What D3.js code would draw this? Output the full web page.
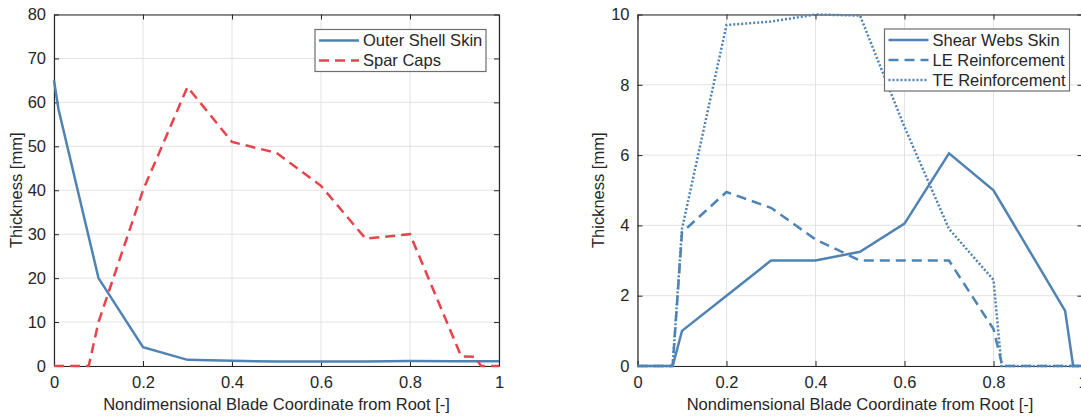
<!DOCTYPE html>
<html lang="en">
<head>
<meta charset="utf-8">
<title>Blade layer thickness</title>
<script src="https://cdn.jsdelivr.net/npm/d3@7"></script>
<style>
  body { margin: 0; background: #fff; }
  svg { display: block; font-family: "Liberation Sans", Arial, Helvetica, sans-serif; }
</style>
</head>
<body>
<script>
// data
var xTicks = [0, 0.2, 0.4, 0.6, 0.8, 1];
var leftYTicks = [0, 10, 20, 30, 40, 50, 60, 70, 80];
var rightYTicks = [0, 2, 4, 6, 8, 10];

var outerShellX = [0, 0.01, 0.1, 0.2, 0.3, 0.4, 0.5, 0.6, 0.7, 0.8, 0.9, 1];
var outerShellY = [65, 58.5, 20, 4.3, 1.4, 1.2, 1.0, 1.0, 1.0, 1.15, 1.1, 1.1];

var sparCapsX = [0, 0.078, 0.1, 0.2, 0.3, 0.4, 0.5, 0.6, 0.7, 0.8, 0.915, 0.945, 0.96, 1];
var sparCapsY = [0, 0, 10, 40, 63.5, 51, 48.5, 41, 29, 30, 2.2, 2.1, 0, 0];

var shearWebX = [0, 0.079, 0.1, 0.2, 0.3, 0.4, 0.5, 0.6, 0.7, 0.8, 0.961, 0.979, 1];
var shearWebY = [0, 0, 1.0, 2.0, 3.0, 3.0, 3.25, 4.05, 6.05, 5.0, 1.57, 0, 0];

var leReinfX = [0, 0.079, 0.1, 0.2, 0.3, 0.4, 0.5, 0.6, 0.7, 0.8, 0.82, 1];
var leReinfY = [0, 0, 3.8, 4.95, 4.5, 3.6, 3.0, 3.0, 3.0, 1.05, 0, 0];

var teReinfX = [0, 0.079, 0.1, 0.2, 0.3, 0.4, 0.5, 0.6, 0.7, 0.8, 0.818, 1];
var teReinfY = [0, 0, 3.9, 9.7, 9.8, 10.0, 9.97, 6.8, 3.9, 2.45, 0, 0];

var blue = "#4f83b3";
var red = "#e8434b";
var ink = "#262626";
var fs = "16.5px";

var w = 1081, h = 419;

var svg = d3.select("body").append("svg")
  .attr("width", w)
  .attr("height", h);

function zip(xs, ys) {
  return xs.map(function(x, i) { return [x, ys[i]]; });
}

var panels = [
  {
    left: 54, right: 499, top: 14.5, bottom: 366,
    yMax: 80, yTicks: leftYTicks,
    series: [
      { name: "Outer Shell Skin", pts: zip(outerShellX, outerShellY), color: blue, dash: null },
      { name: "Spar Caps", pts: zip(sparCapsX, sparCapsY), color: red, dash: "10,6" }
    ],
    legend: { x: 315, y: 29.5, w: 171, h: 42 },
    ylabelX: 16
  },
  {
    left: 637.5, right: 1082.5, top: 14.5, bottom: 366,
    yMax: 10, yTicks: rightYTicks,
    series: [
      { name: "Shear Webs Skin", pts: zip(shearWebX, shearWebY), color: blue, dash: null },
      { name: "LE Reinforcement", pts: zip(leReinfX, leReinfY), color: blue, dash: "10,6" },
      { name: "TE Reinforcement", pts: zip(teReinfX, teReinfY), color: blue, dash: "2,2" }
    ],
    legend: { x: 884.5, y: 29, w: 185, h: 62 },
    ylabelX: 598
  }
];

panels.forEach(function(p) {
  var x = d3.scaleLinear().domain([0, 1]).range([p.left, p.right]);
  var y = d3.scaleLinear().domain([0, p.yMax]).range([p.bottom, p.top]);
  var g = svg.append("g");

  // grid
  g.selectAll(".vgrid").data(xTicks).enter().append("line")
    .attr("x1", function(d) { return x(d); })
    .attr("x2", function(d) { return x(d); })
    .attr("y1", p.top).attr("y2", p.bottom)
    .attr("stroke", "#e3e3e3").attr("stroke-width", 1);
  g.selectAll(".hgrid").data(p.yTicks).enter().append("line")
    .attr("y1", function(d) { return y(d); })
    .attr("y2", function(d) { return y(d); })
    .attr("x1", p.left).attr("x2", p.right)
    .attr("stroke", "#e3e3e3").attr("stroke-width", 1);

  // axes (ticks point inwards, box on all sides)
  var tl = 5;
  g.append("g").attr("transform", "translate(0," + p.bottom + ")")
    .call(d3.axisBottom(x).tickValues(xTicks).tickSizeInner(-tl).tickSizeOuter(0).tickPadding(10)
      .tickFormat(function(d) { return d === 0 || d === 1 ? d3.format("d")(d) : d3.format(".1f")(d); }));
  g.append("g").attr("transform", "translate(" + p.left + ",0)")
    .call(d3.axisLeft(y).tickValues(p.yTicks).tickSizeInner(-tl).tickSizeOuter(0).tickPadding(8));
  g.append("g").attr("transform", "translate(0," + p.top + ")")
    .call(d3.axisTop(x).tickValues(xTicks).tickSizeInner(-tl).tickSizeOuter(0).tickFormat(""));
  g.append("g").attr("transform", "translate(" + p.right + ",0)")
    .call(d3.axisRight(y).tickValues(p.yTicks).tickSizeInner(-tl).tickSizeOuter(0).tickFormat(""));

  g.selectAll(".domain").attr("stroke", ink).attr("stroke-width", 1.2);
  g.selectAll(".tick line").attr("stroke", ink).attr("stroke-width", 1);
  g.selectAll(".tick text").attr("fill", ink).style("font-size", fs)
    .style("font-family", "'Liberation Sans', Arial, sans-serif");

  // series
  var line = d3.line()
    .x(function(d) { return x(d[0]); })
    .y(function(d) { return y(d[1]); });
  p.series.forEach(function(s) {
    g.append("path")
      .attr("d", line(s.pts))
      .attr("fill", "none")
      .attr("stroke", s.color)
      .attr("stroke-width", 2.5)
      .attr("stroke-dasharray", s.dash)
      .attr("stroke-linejoin", "miter");
  });

  // axis labels
  g.append("text")
    .attr("x", (p.left + p.right) / 2)
    .attr("y", 410)
    .attr("text-anchor", "middle")
    .attr("fill", ink)
    .style("font-size", fs)
    .text("Nondimensional Blade Coordinate from Root [-]");
  g.append("text")
    .attr("transform", "translate(" + p.ylabelX + "," + ((p.top + p.bottom) / 2) + ") rotate(-90)")
    .attr("dy", "0.35em")
    .attr("text-anchor", "middle")
    .attr("fill", ink)
    .style("font-size", fs)
    .text("Thickness [mm]");

  // legend
  var L = p.legend;
  var lg = g.append("g");
  lg.append("rect")
    .attr("x", L.x).attr("y", L.y).attr("width", L.w).attr("height", L.h)
    .attr("fill", "#fff").attr("stroke", "#6e6e6e").attr("stroke-width", 1.2);
  p.series.forEach(function(s, i) {
    var cy = L.y + 11 + i * 20;
    lg.append("line")
      .attr("x1", L.x + 4).attr("x2", L.x + 44)
      .attr("y1", cy).attr("y2", cy)
      .attr("stroke", s.color).attr("stroke-width", 2.5)
      .attr("stroke-dasharray", s.dash);
    lg.append("text")
      .attr("x", L.x + 48).attr("y", cy)
      .attr("dy", "0.35em")
      .attr("fill", ink)
      .style("font-size", fs)
      .text(s.name);
  });
});
</script>
</body>
</html>
